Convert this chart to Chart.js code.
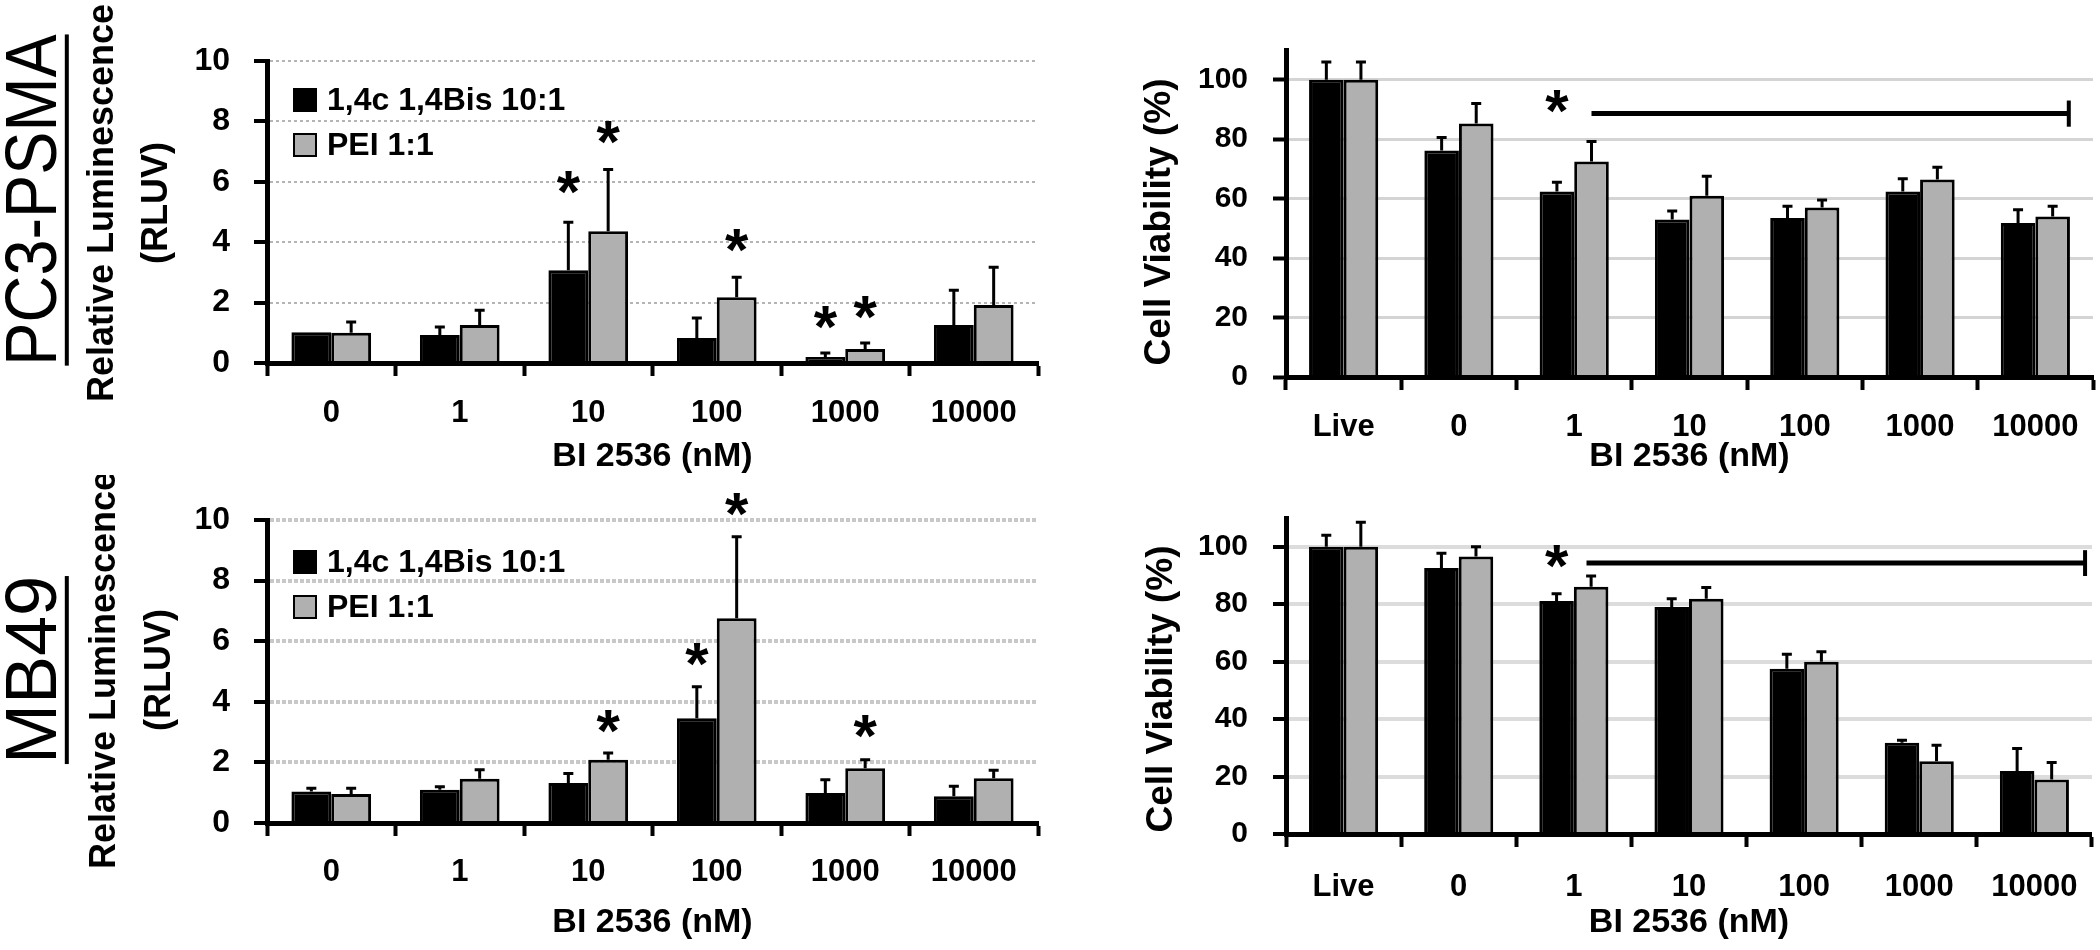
<!DOCTYPE html>
<html>
<head>
<meta charset="utf-8">
<title>BI 2536 - luminescence and cell viability</title>
<script src="https://cdn.jsdelivr.net/npm/chart.js@4.4.1/dist/chart.umd.min.js"></script>
<style>
  html, body { margin: 0; padding: 0; background: #fff; }
  #page { position: relative; width: 2100px; height: 950px; overflow: hidden; }
  .panel { position: absolute; }
  .cell {
    position: absolute;
    font-family: 'Liberation Sans', Arial, sans-serif;
    font-size: 72px;
    line-height: 0.95;
    border-bottom: 4px solid #000;
    white-space: nowrap;
    color: #000;
  }
</style>
</head>
<body>
<div id="page">
  <div class="cell" style="left:33px; top:200px; transform: translate(-50%, -50%) rotate(-90deg) scaleX(0.9)">PC3-PSMA</div>
  <div class="cell" style="left:33px; top:670px; transform: translate(-50%, -50%) rotate(-90deg)">MB49</div>
  <canvas id="pc3Lum" class="panel" width="1060" height="475" style="left:0; top:0"></canvas>
  <canvas id="pc3Via" class="panel" width="1040" height="475" style="left:1060px; top:0"></canvas>
  <canvas id="mb49Lum" class="panel" width="1060" height="475" style="left:0; top:475px"></canvas>
  <canvas id="mb49Via" class="panel" width="1040" height="475" style="left:1060px; top:475px"></canvas>
</div>

<script>
// =====================================================
// DATA
// =====================================================
const seriesLabels = ["1,4c 1,4Bis 10:1", "PEI 1:1"];
const lumCategories = ["0", "1", "10", "100", "1000", "10000"];
const viaCategories = ["Live", "0", "1", "10", "100", "1000", "10000"];
const lumTicks = [0, 2, 4, 6, 8, 10];
const viaTicks = [0, 20, 40, 60, 80, 100];

// PC3-PSMA, luminescence
const pc3LumBlack = [1.02, 0.93, 3.07, 0.83, 0.2, 1.26];
const pc3LumBlackErr = [0, 0.26, 1.59, 0.66, 0.13, 1.15];
const pc3LumGrey = [1.0, 1.26, 4.36, 2.18, 0.46, 1.92];
const pc3LumGreyErr = [0.36, 0.49, 2.05, 0.66, 0.2, 1.25];
const pc3LumBlackStars = [null, null, 5.98, null, 1.5, null];
const pc3LumGreyStars = [null, null, 7.64, 4.07, 1.85, null];

// PC3-PSMA, viability
const pc3ViaBlack = [100, 76.2, 62.4, 53, 53.5, 62.4, 51.8];
const pc3ViaBlackErr = [6, 4.4, 3.1, 2.8, 3.9, 4.3, 4.5];
const pc3ViaGrey = [100, 85.3, 72.5, 61, 57, 66.4, 54];
const pc3ViaGreyErr = [6, 6.7, 6.7, 6.5, 2.5, 4.2, 3.4];
const pc3ViaBlackStars = [null, null, 92.6, null, null, null, null];

// MB49, luminescence
const mbLumBlack = [1.04, 1.1, 1.32, 3.46, 0.99, 0.88];
const mbLumBlackErr = [0.11, 0.1, 0.31, 1.04, 0.44, 0.33];
const mbLumGrey = [0.96, 1.46, 2.09, 6.76, 1.81, 1.48];
const mbLumGreyErr = [0.19, 0.3, 0.22, 2.69, 0.28, 0.26];
const mbLumBlackStars = [null, null, null, 5.55, null, null];
const mbLumGreyStars = [null, null, 3.35, 10.5, 3.19, null];

// MB49, viability
const mbViaBlack = [100, 92.6, 81.1, 79, 57.5, 31.8, 21.9];
const mbViaBlackErr = [4, 5.1, 2.5, 2.9, 5.1, 0.8, 7.9];
const mbViaGrey = [100, 96.6, 86.1, 81.9, 60, 25.3, 19];
const mbViaGreyErr = [8.5, 3.4, 3.7, 3.9, 3.4, 5.6, 5.9];
const mbViaBlackStars = [null, null, 96.6, null, null, null, null];

// significance bars (category index range, value)
const pc3Sig = { from: 2.15, to: 6.29, value: 88.6, cap: 4.4 };
const mbSig = { from: 2.11, to: 6.44, value: 94.3, cap: 4.5 };

// =====================================================
// PLUGINS
// =====================================================
const FONT = "'Liberation Sans', Arial, sans-serif";

const errorBars = {
  id: "errorBars",
  afterDatasetsDraw(chart) {
    const { ctx, scales: { y } } = chart;
    ctx.save();
    ctx.strokeStyle = "#000";
    ctx.lineWidth = 3;
    chart.data.datasets.forEach((ds, d) => {
      const meta = chart.getDatasetMeta(d);
      meta.data.forEach((bar, i) => {
        const err = ds.errors ? ds.errors[i] : 0;
        if (!err) return;
        const top = y.getPixelForValue(ds.data[i] + err);
        ctx.beginPath();
        ctx.moveTo(bar.x, bar.y);
        ctx.lineTo(bar.x, top);
        ctx.moveTo(bar.x - 5, top);
        ctx.lineTo(bar.x + 5, top);
        ctx.stroke();
      });
    });
    ctx.restore();
  },
};

const stars = {
  id: "stars",
  afterDatasetsDraw(chart) {
    const { ctx, scales: { y } } = chart;
    ctx.save();
    ctx.fillStyle = "#000";
    ctx.font = "bold 60px " + FONT;
    ctx.textAlign = "center";
    ctx.textBaseline = "alphabetic";
    const m = ctx.measureText("*");
    const shift = (m.actualBoundingBoxAscent - m.actualBoundingBoxDescent) / 2;
    chart.data.datasets.forEach((ds, d) => {
      if (!ds.stars) return;
      const meta = chart.getDatasetMeta(d);
      ds.stars.forEach((v, i) => {
        if (v == null) return;
        ctx.fillText("*", meta.data[i].x, y.getPixelForValue(v) + shift);
      });
    });
    ctx.restore();
  },
};

const sigLine = {
  id: "sigLine",
  afterDatasetsDraw(chart, args, opts) {
    if (!opts || opts.value == null) return;
    const { ctx, scales: { x, y } } = chart;
    const x1 = x.getPixelForValue(opts.from);
    const x2 = x.getPixelForValue(opts.to);
    const yy = y.getPixelForValue(opts.value);
    ctx.save();
    ctx.strokeStyle = "#000";
    ctx.lineWidth = 5;
    ctx.beginPath();
    ctx.moveTo(x1, yy);
    ctx.lineTo(x2, yy);
    ctx.stroke();
    ctx.lineWidth = 4;
    ctx.beginPath();
    ctx.moveTo(x2, y.getPixelForValue(opts.value + opts.cap));
    ctx.lineTo(x2, y.getPixelForValue(opts.value - opts.cap));
    ctx.stroke();
    ctx.restore();
  },
};

// legend inside the plot area, built from the datasets
const boxLegend = {
  id: "boxLegend",
  afterDraw(chart, args, opts) {
    if (!opts || !opts.show) return;
    const { ctx, chartArea } = chart;
    ctx.save();
    ctx.font = "bold " + opts.size + "px " + FONT;
    ctx.textBaseline = "middle";
    chart.data.datasets.forEach((ds, d) => {
      const bx = chartArea.left + opts.dx;
      const by = chartArea.top + opts.dy + d * opts.step;
      ctx.fillStyle = ds.backgroundColor;
      ctx.fillRect(bx, by, opts.box, opts.box);
      ctx.lineWidth = 2;
      ctx.strokeStyle = "#000";
      ctx.strokeRect(bx + 1, by + 1, opts.box - 2, opts.box - 2);
      ctx.fillStyle = "#000";
      ctx.fillText(ds.label, bx + opts.box + 10, by + opts.box / 2 + 1);
    });
    ctx.restore();
  },
};

// rotated y titles (drawn without the width squeeze of the axis title)
const sideTitle = {
  id: "sideTitle",
  afterDraw(chart, args, opts) {
    if (!opts || !opts.lines) return;
    const { ctx } = chart;
    ctx.save();
    ctx.fillStyle = "#000";
    ctx.font = "bold " + opts.size + "px " + FONT;
    ctx.textAlign = "center";
    ctx.textBaseline = "middle";
    opts.lines.forEach((line, i) => {
      ctx.save();
      ctx.translate(opts.x[i], opts.y);
      ctx.rotate(-Math.PI / 2);
      ctx.fillText(line, 0, 0);
      ctx.restore();
    });
    ctx.restore();
  },
};

// =====================================================
// PANEL FACTORY
// =====================================================
function makePanel(id, o) {
  const tickFont = { family: FONT, size: o.yFont, weight: "bold" };
  return new Chart(document.getElementById(id), {
    type: "bar",
    data: {
      labels: o.labels,
      datasets: [
        {
          label: seriesLabels[0],
          data: o.black,
          errors: o.blackErr,
          stars: o.blackStars,
          backgroundColor: "#000",
          borderColor: "#000",
          borderWidth: 3,
        },
        {
          label: seriesLabels[1],
          data: o.grey,
          errors: o.greyErr,
          stars: o.greyStars,
          backgroundColor: "#b0b0b0",
          borderColor: "#000",
          borderWidth: 3,
        },
      ],
    },
    options: {
      responsive: false,
      animation: false,
      events: [],
      layout: { padding: { top: o.top, right: o.right, left: 0, bottom: 0 } },
      datasets: { bar: { categoryPercentage: o.catPct, barPercentage: 1 } },
      scales: {
        x: {
          grid: {
            offset: true,
            drawOnChartArea: false,
            drawTicks: true,
            tickLength: 13,
            tickWidth: 4,
            tickColor: "#000",
          },
          border: { color: "#000", width: 5, z: 1 },
          ticks: {
            color: "#000",
            font: { family: FONT, size: 31, weight: "bold" },
            padding: o.xPad,
            maxRotation: 0,
            autoSkip: false,
          },
          title: {
            display: true,
            text: "BI 2536 (nM)",
            color: "#000",
            font: { family: FONT, size: 34, weight: "bold", lineHeight: 1.1 },
            padding: { top: 0, bottom: o.titlePad },
          },
          afterFit: (s) => {
            s.height = o.xHeight;
          },
        },
        y: {
          min: 0,
          max: o.max,
          afterBuildTicks: (s) => {
            s.ticks = o.ticks.map((v) => ({ value: v }));
          },
          grid: {
            color: o.gridColor,
            lineWidth: o.gridWidth,
            drawTicks: true,
            tickLength: 13,
            tickWidth: 4,
            tickColor: "#000",
          },
          border: { color: "#000", width: 5, dash: o.gridDash, z: 1 },
          ticks: { color: "#000", font: tickFont, padding: o.yPad },
          afterFit: (s) => {
            s.width = o.yWidth;
          },
        },
      },
      plugins: {
        legend: { display: false },
        tooltip: { enabled: false },
        boxLegend: o.legend || { show: false },
        sigLine: o.sig || {},
        sideTitle: o.side,
      },
    },
    plugins: [errorBars, stars, sigLine, boxLegend, sideTitle],
  });
}

// =====================================================
// PANELS
// =====================================================
makePanel("pc3Lum", {
  labels: lumCategories,
  black: pc3LumBlack, blackErr: pc3LumBlackErr, blackStars: pc3LumBlackStars,
  grey: pc3LumGrey, greyErr: pc3LumGreyErr, greyStars: pc3LumGreyStars,
  max: 10, ticks: lumTicks,
  top: 61, right: 22, yWidth: 267, xHeight: 112,
  catPct: 0.62, yFont: 32, yPad: 24, xPad: 19, titlePad: 0,
  gridColor: "#b4b4b4", gridWidth: 2, gridDash: [3, 3],
  legend: { show: true, dx: 26, dy: 27, step: 45, box: 24, size: 32 },
  side: { lines: ["Relative Luminescence", "(RLUV)"], x: [103, 157], y: 203, size: 36 },
});

makePanel("pc3Via", {
  labels: viaCategories,
  black: pc3ViaBlack, blackErr: pc3ViaBlackErr, blackStars: pc3ViaBlackStars,
  grey: pc3ViaGrey, greyErr: pc3ViaGreyErr, greyStars: null,
  max: 110, ticks: viaTicks,
  top: 50, right: 7, yWidth: 226, xHeight: 98,
  catPct: 0.6, yFont: 30, yPad: 25, xPad: 19, titlePad: 0,
  gridColor: "#d4d4d4", gridWidth: 3, gridDash: [],
  sig: pc3Sig,
  side: { lines: ["Cell Viability (%)"], x: [100], y: 222, size: 37 },
});

makePanel("mb49Lum", {
  labels: lumCategories,
  black: mbLumBlack, blackErr: mbLumBlackErr, blackStars: mbLumBlackStars,
  grey: mbLumGrey, greyErr: mbLumGreyErr, greyStars: mbLumGreyStars,
  max: 10, ticks: lumTicks,
  top: 45, right: 22, yWidth: 267, xHeight: 127,
  catPct: 0.62, yFont: 32, yPad: 24, xPad: 18, titlePad: 9,
  gridColor: "#c8c8c8", gridWidth: 4, gridDash: [4, 2],
  legend: { show: true, dx: 26, dy: 30, step: 45, box: 24, size: 32 },
  side: { lines: ["Relative Luminescence", "(RLUV)"], x: [105, 160], y: 195, size: 36 },
});

makePanel("mb49Via", {
  labels: viaCategories,
  black: mbViaBlack, blackErr: mbViaBlackErr, blackStars: mbViaBlackStars,
  grey: mbViaGrey, greyErr: mbViaGreyErr, greyStars: null,
  max: 110, ticks: viaTicks,
  top: 37, right: 7, yWidth: 226, xHeight: 116,
  catPct: 0.6, yFont: 30, yPad: 25, xPad: 22, titlePad: 9,
  gridColor: "#dcdcdc", gridWidth: 4, gridDash: [],
  sig: mbSig,
  side: { lines: ["Cell Viability (%)"], x: [102], y: 214, size: 37 },
});
</script>
</body>
</html>
